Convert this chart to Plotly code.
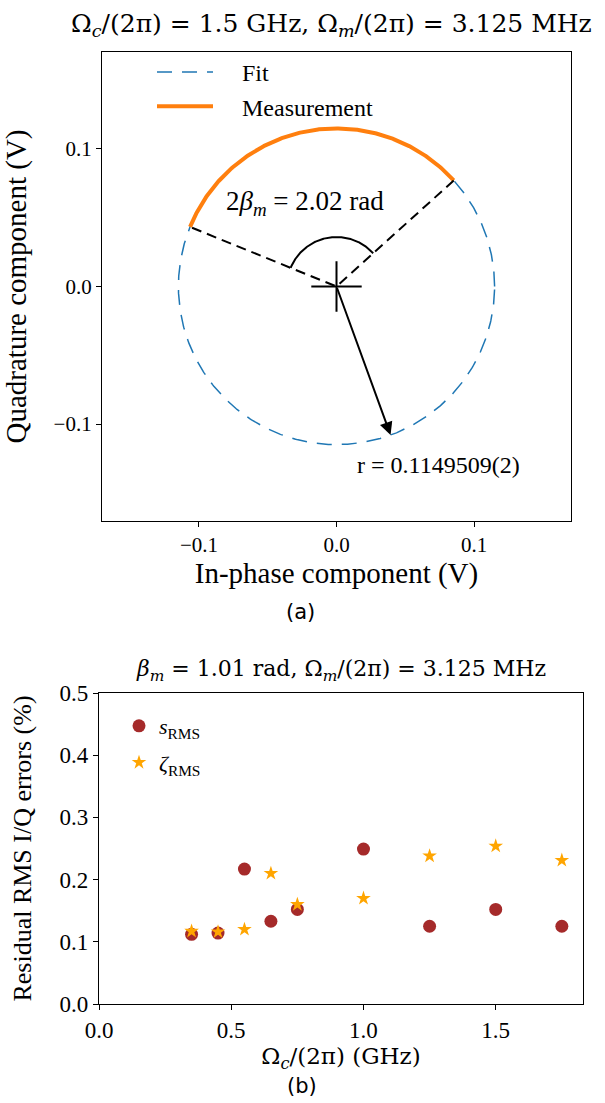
import numpy as np
import plotly.graph_objects as go

# ---- panel (a): I/Q circle ----
R_FIT = 0.1149509          # fitted radius (V)
BETA_M = 1.01              # modulation index (rad), arc spans 2*beta_m
ARC_MID_DEG = 100.0        # direction of the middle of the measured arc
ARROW_DEG = -70.0          # direction of the radius arrow
ANGLE_ARC_R = 0.036        # radius of the angle marker arc

# ---- panel (b): residual RMS errors ----
omega_c = [0.35, 0.45, 0.55, 0.65, 0.75, 1.0, 1.25, 1.5, 1.75]
s_rms = [0.112, 0.114, 0.217, 0.133, 0.152, 0.249, 0.125, 0.152, 0.125]
zeta_rms = [0.117, 0.116, 0.120, 0.210, 0.160, 0.170, 0.238, 0.254, 0.231]

SERIF = "Liberation Serif"
MATH = "DejaVu Serif"
SANS = "DejaVu Sans"
W, H = 605, 1103
PAD = "\u00a0" * 4   # gap between legend sample and label


def px(x):
    return x / W


def py(y):
    return 1 - y / H


fig = go.Figure()

# fitted circle
th = np.linspace(0, 2 * np.pi, 721)
fig.add_trace(go.Scatter(
    x=R_FIT * np.cos(th), y=R_FIT * np.sin(th), mode="lines",
    line=dict(color="#1f77b4", width=1.5, dash="15px,10px"),
    name=PAD + "Fit", xaxis="x", yaxis="y", legend="legend", hoverinfo="skip"))

# measured arc
a0 = np.deg2rad(ARC_MID_DEG) - BETA_M
a1 = np.deg2rad(ARC_MID_DEG) + BETA_M
ta = np.linspace(a0, a1, 300)
fig.add_trace(go.Scatter(
    x=R_FIT * np.cos(ta), y=R_FIT * np.sin(ta), mode="lines",
    line=dict(color="#ff7f0e", width=4),
    name=PAD + "Measurement", xaxis="x", yaxis="y", legend="legend", hoverinfo="skip"))

# dashed radii to the arc ends
fig.add_trace(go.Scatter(
    x=[R_FIT * np.cos(a0), 0, R_FIT * np.cos(a1)],
    y=[R_FIT * np.sin(a0), 0, R_FIT * np.sin(a1)],
    mode="lines", line=dict(color="black", width=2, dash="10px,6px"),
    showlegend=False, xaxis="x", yaxis="y", hoverinfo="skip"))

# angle marker arc
fig.add_trace(go.Scatter(
    x=ANGLE_ARC_R * np.cos(ta), y=ANGLE_ARC_R * np.sin(ta), mode="lines",
    line=dict(color="black", width=2),
    showlegend=False, xaxis="x", yaxis="y", hoverinfo="skip"))

# centre cross
fig.add_trace(go.Scatter(
    x=[0], y=[0], mode="markers",
    marker=dict(symbol="cross-thin", size=36, color="black",
                line=dict(color="black", width=2)),
    showlegend=False, xaxis="x", yaxis="y", hoverinfo="skip"))

# panel (b) scatter
fig.add_trace(go.Scatter(
    x=omega_c, y=s_rms, mode="markers",
    marker=dict(symbol="circle", size=13, color="#a52a2a"),
    name="<i>s</i><sub>RMS</sub>", legendgroup="s",
    xaxis="x2", yaxis="y2", legend="legend2"))
fig.add_trace(go.Scatter(
    x=omega_c, y=zeta_rms, mode="markers",
    marker=dict(symbol="star", size=11, color="#ffa500"),
    name="<i>ζ</i><sub>RMS</sub>", legendgroup="z",
    xaxis="x2", yaxis="y2", legend="legend2"))

ra = np.deg2rad(ARROW_DEG)


def label(x, y, text, family, size):
    return dict(x=x, y=y, xref="paper", yref="paper", xanchor="center",
                yanchor="middle", showarrow=False, text=text,
                font=dict(family=family, size=size, color="black"))


annotations = [
    dict(x=R_FIT * np.cos(ra), y=R_FIT * np.sin(ra), ax=0, ay=0,
         xref="x", yref="y", axref="x", ayref="y", showarrow=True,
         arrowhead=2, arrowsize=1.3, arrowwidth=2, arrowcolor="black",
         text=""),
    dict(x=0.0745, y=-0.130, xref="x", yref="y", showarrow=False,
         xanchor="center", yanchor="middle",
         text=f"r = {R_FIT:.7f}(2)", font=dict(family=SERIF, size=24, color="black")),
    dict(x=-0.023, y=0.061, xref="x", yref="y", showarrow=False,
         xanchor="center", yanchor="middle",
         text=f"2<i>β</i><sub><i>m</i></sub> = {2 * BETA_M:.2f} rad",
         font=dict(family=SERIF, size=27, color="black")),
    label(px(331), py(25),
          "Ω<sub><i>c</i></sub>/(2π) = 1.5 GHz, Ω<sub><i>m</i></sub>/(2π) = 3.125 MHz",
          MATH, 25),
    label(px(300), py(612), "(a)", SANS, 21),
    label(px(341), py(671),
          "<i>β</i><sub><i>m</i></sub> = 1.01 rad, Ω<sub><i>m</i></sub>/(2π) = 3.125 MHz",
          MATH, 22),
    label(px(302), py(1086), "(b)", SANS, 21),
]

axis_common = dict(showline=True, linecolor="black", linewidth=1.2, mirror=True,
                   ticks="outside", ticklen=5, tickwidth=1, tickcolor="black",
                   showgrid=False, zeroline=False, automargin=False,
                   tickfont=dict(family=SERIF, size=21, color="black"))
axis_b = dict(axis_common, tickfont=dict(family=SERIF, size=23, color="black"))

fig.update_layout(
    width=W, height=H, autosize=False,
    margin=dict(l=0, r=0, t=0, b=0),
    paper_bgcolor="white", plot_bgcolor="white",
    annotations=annotations,
    xaxis=dict(axis_common, domain=[px(102), px(571)], anchor="y",
               range=[-0.1705, 0.1705], tickvals=[-0.1, 0.0, 0.1], tickformat=".1f",
               title=dict(text="In-phase component (V)", standoff=3,
                          font=dict(family=SERIF, size=29, color="black"))),
    yaxis=dict(axis_common, domain=[py(521), py(52)], anchor="x",
               range=[-0.1705, 0.1705], tickvals=[-0.1, 0.0, 0.1], tickformat=".1f",
               title=dict(text="Quadrature component (V)", standoff=18,
                          font=dict(family=SERIF, size=29, color="black"))),
    xaxis2=dict(axis_b, domain=[px(99), px(583)], anchor="y2",
                range=[0, 1.83], tickvals=[0.0, 0.5, 1.0, 1.5], tickformat=".1f",
                title=dict(text="Ω<sub><i>c</i></sub>/(2π) (GHz)", standoff=4,
                           font=dict(family=MATH, size=23, color="black"))),
    yaxis2=dict(axis_b, domain=[py(1004), py(693)], anchor="x2",
                range=[0, 0.5], tickvals=[0.0, 0.1, 0.2, 0.3, 0.4, 0.5], tickformat=".1f",
                title=dict(text="Residual RMS I/Q errors (%)", standoff=20,
                           font=dict(family=SERIF, size=26, color="black"))),
    legend=dict(x=px(152), y=py(50), xanchor="left", yanchor="top",
                bgcolor="rgba(0,0,0,0)", borderwidth=0, itemwidth=56,
                font=dict(family=SERIF, size=24, color="black")),
    legend2=dict(x=px(119), y=py(705), xanchor="left", yanchor="top",
                 bgcolor="rgba(0,0,0,0)", borderwidth=0, tracegroupgap=5,
                 font=dict(family=SERIF, size=22, color="black")),
)

fig.write_html("out.html")
